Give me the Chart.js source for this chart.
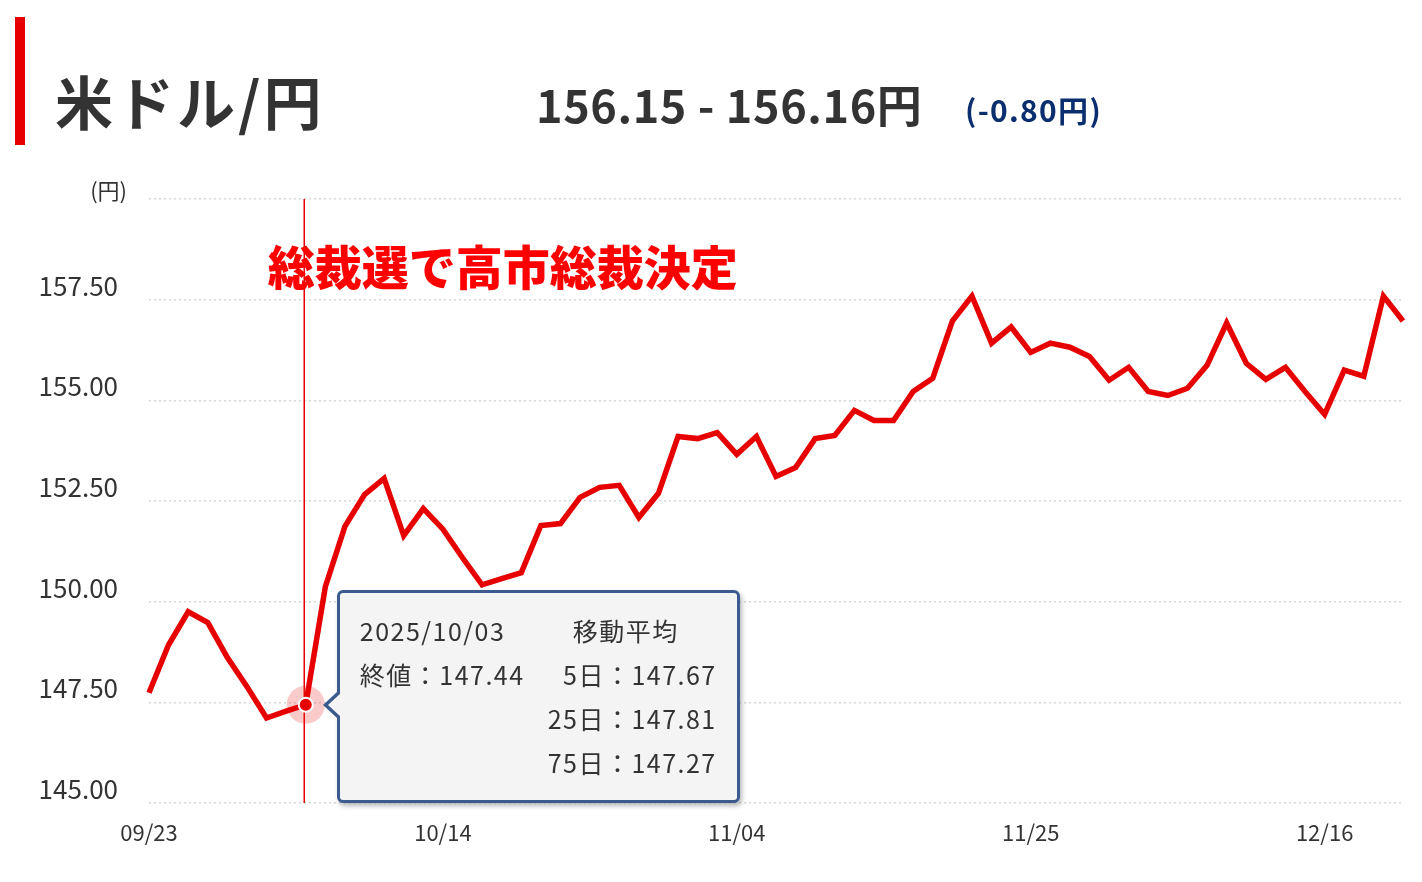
<!DOCTYPE html>
<html><head><meta charset="utf-8">
<script src="https://cdn.jsdelivr.net/npm/chart.js@4.4.1/dist/chart.umd.min.js"></script>
<style>
html,body{margin:0;padding:0;background:#fff;width:1422px;height:882px;overflow:hidden;font-family:"Noto Sans CJK JP","Noto Sans",sans-serif;}
#wrap{position:relative;width:1422px;height:882px;}
#c{position:absolute;left:0;top:0;}
.abs{position:absolute;white-space:nowrap;}
#bar{left:15px;top:17px;width:10px;height:128px;background:#e60000;}
#title{left:55px;top:70px;font-size:58px;line-height:60px;font-weight:700;color:#333;letter-spacing:3px;}
#price{left:536px;top:79px;font-size:45px;line-height:50px;font-weight:700;color:#333;letter-spacing:0.6px;}
#chg{left:965px;top:91px;font-size:30px;line-height:36px;font-weight:700;color:#0b2f6e;letter-spacing:1.3px;}
#tip{position:absolute;box-sizing:border-box;background:#f4f4f4;border:3px solid #3b5b8f;border-radius:6px;box-shadow:2px 3px 5px rgba(0,0,0,0.28);color:#333;font-size:25px;}
#tip:before{content:"";position:absolute;left:-17px;width:0;height:0;border-style:solid;border-width:13px 14px 13px 0;border-color:transparent #3b5b8f transparent transparent;}
#tip:after{content:"";position:absolute;left:-12px;width:0;height:0;border-style:solid;border-width:12px 13px 12px 0;border-color:transparent #f4f4f4 transparent transparent;}
#tip .t{position:absolute;line-height:44px;white-space:nowrap;letter-spacing:1.5px;}
</style></head>
<body><div id="wrap">
<canvas id="c" width="1422" height="882"></canvas>
<div class="abs" id="bar"></div>
<div class="abs" id="title">米ドル/円</div>
<div class="abs" id="price">156.15 - 156.16円</div>
<div class="abs" id="chg">(-0.80円)</div>
<div id="tip"></div>
</div>
<script>
// ---- data ----
const dates = ['09/23','09/24','09/25','09/26','09/29','09/30','10/01','10/02','10/03','10/06',
 '10/07','10/08','10/09','10/10','10/13','10/14','10/15','10/16','10/17','10/20',
 '10/21','10/22','10/23','10/24','10/27','10/28','10/29','10/30','10/31','11/03',
 '11/04','11/05','11/06','11/07','11/10','11/11','11/12','11/13','11/14','11/17',
 '11/18','11/19','11/20','11/21','11/24','11/25','11/26','11/27','11/28','12/01',
 '12/02','12/03','12/04','12/05','12/08','12/09','12/10','12/11','12/12','12/15',
 '12/16','12/17','12/18','12/19','12/22'];
const closeValues = [147.74,148.93,149.75,149.48,148.61,147.89,147.11,147.28,147.44,150.37,
 151.87,152.66,153.06,151.64,152.31,151.80,151.09,150.42,150.57,150.72,
 151.89,151.94,152.59,152.84,152.89,152.09,152.69,154.10,154.05,154.20,
 153.66,154.10,153.11,153.33,154.05,154.13,154.75,154.50,154.50,155.22,
 155.55,156.97,157.59,156.42,156.82,156.19,156.42,156.32,156.09,155.50,
 155.82,155.22,155.12,155.30,155.87,156.92,155.92,155.52,155.82,155.22,
 154.65,155.75,155.60,157.59,156.97];
const xTickLabels = ['09/23','10/14','11/04','11/25','12/16'];
const yMin = 145, yMax = 160, yStep = 2.5;
const yUnitLabel = '(円)';
const eventIndex = 8;
const eventLabel = '総裁選で高市総裁決定';
const tipDate = '2025/10/03';
const tipCloseLabel = '終値';
const tipMaTitle = '移動平均';
const maLabels = ['5日','25日','75日'];
const maValues = [147.67, 147.81, 147.27];

const RED = '#e60000';
const FONT = '"Noto Sans CJK JP","Noto Sans",sans-serif';

const overlay = {
  id: 'overlay',
  beforeDatasetsDraw(chart) {
    const {ctx, chartArea, scales} = chart;
    const x = scales.x.getPixelForValue(eventIndex);
    const y = scales.y.getPixelForValue(closeValues[eventIndex]);
    ctx.save();
    ctx.strokeStyle = RED; ctx.lineWidth = 1.5;
    ctx.beginPath(); ctx.moveTo(x - 1.5, chartArea.top); ctx.lineTo(x - 1.5, chartArea.bottom); ctx.stroke();
    ctx.fillStyle = 'rgba(235,40,40,0.25)';
    ctx.beginPath(); ctx.arc(x, y, 19, 0, Math.PI * 2); ctx.fill();
    ctx.restore();
  },
  afterDatasetsDraw(chart) {
    const {ctx, scales} = chart;
    const x = scales.x.getPixelForValue(eventIndex);
    ctx.save();
    ctx.fillStyle = '#333';
    ctx.font = '22px ' + FONT;
    ctx.textAlign = 'right'; ctx.textBaseline = 'middle';
    ctx.fillText(yUnitLabel, 127, scales.y.getPixelForValue(yMax) - 8);
    ctx.font = '900 47px ' + FONT;
    ctx.textAlign = 'left';
    ctx.fillStyle = '#ff0000';
    ctx.fillText(eventLabel, x - 38, scales.y.getPixelForValue(158.3));
    ctx.restore();
  }
};

const chart = new Chart(document.getElementById('c'), {
  type: 'line',
  data: {
    labels: dates,
    datasets: [{
      data: closeValues,
      borderColor: RED,
      borderWidth: 5.5,
      tension: 0,
      fill: false,
      pointRadius: c => c.dataIndex === eventIndex ? 7 : 0,
      pointHoverRadius: c => c.dataIndex === eventIndex ? 7 : 0,
      pointBackgroundColor: RED,
      pointBorderColor: '#fff',
      pointBorderWidth: 2
    }]
  },
  options: {
    responsive: false,
    devicePixelRatio: 1,
    animation: false,
    events: [],
    layout: {padding: {left: 0, right: 19, top: 199, bottom: 0}},
    plugins: {legend: {display: false}, tooltip: {enabled: false}},
    scales: {
      x: {
        type: 'category',
        offset: false,
        afterFit: s => { s.height = 79; },
        grid: {display: false, drawTicks: false},
        border: {display: false},
        ticks: {
          autoSkip: false, maxRotation: 0, minRotation: 0,
          padding: 16, color: '#333',
          font: {family: FONT, size: 22},
          callback: (v, i) => xTickLabels.includes(dates[i]) ? dates[i] : ''
        }
      },
      y: {
        min: yMin, max: yMax,
        afterFit: s => { s.width = 149; },
        grid: {color: '#d6d6d6', lineWidth: 1.5, drawTicks: false},
        border: {display: false, dash: [2, 3]},
        ticks: {
          stepSize: yStep, padding: 31, color: '#333', labelOffset: -14,
          font: {family: FONT, size: 26},
          callback: v => v === yMax ? '' : Number(v).toFixed(2)
        }
      }
    }
  },
  plugins: [overlay]
});

// tooltip box, anchored to the event point via the chart scales
(function () {
  const px = chart.scales.x.getPixelForValue(eventIndex);
  const py = chart.scales.y.getPixelForValue(closeValues[eventIndex]);
  const tip = document.getElementById('tip');
  const left = px + 31, top = chart.chartArea.bottom - 213;
  tip.style.left = left + 'px'; tip.style.top = top + 'px';
  tip.style.width = '403px'; tip.style.height = '213px';
  const caretTop = py - (top + 3);
  const st = document.createElement('style');
  st.textContent = '#tip:before{top:' + (caretTop - 13) + 'px}#tip:after{top:' + (caretTop - 12) + 'px}';
  document.head.appendChild(st);
  const rows = [
    {txt: tipDate, l: 20, t: 15},
    {txt: tipMaTitle, l: 233, t: 15},
    {txt: tipCloseLabel + '：' + closeValues[eventIndex].toFixed(2), l: 20, t: 59}
  ];
  maLabels.forEach((lab, i) => rows.push({txt: lab + '：' + maValues[i].toFixed(2), r: 20, t: 59 + 44 * i}));
  rows.forEach(r => {
    const d = document.createElement('div');
    d.className = 't'; d.textContent = r.txt; d.style.top = r.t + 'px';
    if (r.l !== undefined) d.style.left = r.l + 'px'; else d.style.right = r.r + 'px';
    tip.appendChild(d);
  });
})();
</script>
</body></html>
